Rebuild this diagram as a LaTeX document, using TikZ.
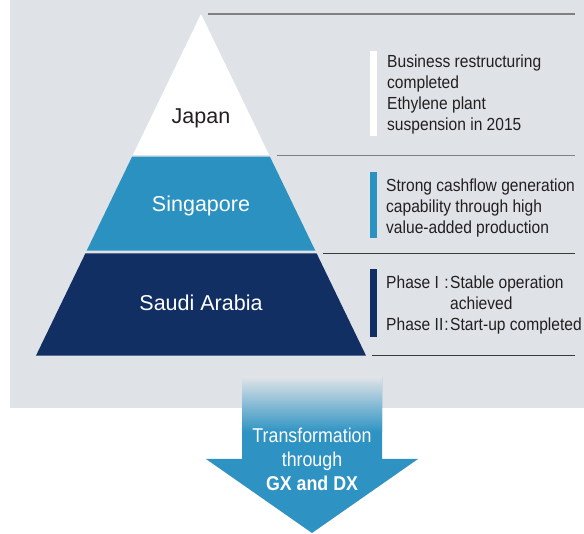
\documentclass[tikz,border=0pt]{standalone}
\usepackage{fontspec}
\setmainfont{Liberation Sans}
\newfontfamily\condensed{Liberation Sans}[FakeStretch=0.89]
\usepackage{tikz}
\definecolor{panelgray}{HTML}{DFE3E7}
\definecolor{midblue}{HTML}{2B91C0}
\definecolor{navy}{HTML}{112F63}
\definecolor{arrowblue}{HTML}{2E93C3}
\definecolor{rulegray}{HTML}{808080}
\definecolor{ruledark}{HTML}{3A3A3A}
\definecolor{ink}{HTML}{231F20}
\tikzstyle{tier label} = [font=\fontsize{21.5}{26}\selectfont, inner sep=0pt, anchor=base]
\tikzstyle{note} = [font=\condensed\fontsize{17.5}{21}\selectfont, inner sep=0pt, anchor=base west, text=ink]
\tikzstyle{rule} = [draw, line width=1.2pt]
\tikzstyle{arrow text} = [font=\condensed\fontsize{20}{24}\selectfont, inner sep=0pt, anchor=base, text=white]

\begin{document}
\begin{tikzpicture}[x=1pt, y=-1pt]
						\useasboundingbox (0,0) rectangle (584,534);
						\fill[panelgray] (10,0) rectangle (584,408);

						% First we draw the three tiers of the pyramid
						\foreach \ytop/\ybot/\col in {14/155/white, 156.7/250.7/midblue, 253.3/355.7/navy}
						\fill[\col] ({201-0.483*(\ytop-14)},\ytop) -- ({201+0.483*(\ytop-14)},\ytop)
							-- ({201+0.483*(\ybot-14)},\ybot) -- ({201-0.483*(\ybot-14)},\ybot) -- cycle;

						\node[tier label, text=ink] (japan) at (201,123.3) {Japan};
						\node[tier label, text=white] (singapore) at (201,212) {Singapore};
						\node[tier label, text=white] (saudi) at (201,310.7) {Saudi Arabia};

						% Rules between the rows on the right
						\foreach \x/\y/\col in {208/14/rulegray, 277/155.7/rulegray, 323/253.3/ruledark, 372/355.3/ruledark}
						\path[rule, \col] (\x,\y) -- (575,\y);

						% Colour bars beside the notes
						\foreach \ytop/\ybot/\col in {50.7/135.7/white, 171.7/238.3/midblue, 269.3/336.7/navy}
						\fill[\col] (370,\ytop) rectangle (376.5,\ybot);

						\node[note] (japan note) at (387,67.7) {\begin{tabular}[t]{@{}l@{}}
							Business restructuring\\ completed\\ Ethylene plant\\ suspension in 2015\end{tabular}};
						\node[note] (singapore note) at (386,191.7) {\begin{tabular}[t]{@{}l@{}}
							Strong cashflow generation\\ capability through high\\ value-added production\end{tabular}};
						\node[note] (saudi note) at (386,289) {\begin{tabular}[t]{@{}l@{\hspace{1pt}}l@{\hspace{1.5pt}}l@{}}
							Phase I & : & Stable operation\\ & & achieved\\ Phase II & : & Start-up completed\end{tabular}};

						% The arrow below the panel, fading in from the top
						\fill[arrowblue] (242,377) -- (382,377) -- (382,459) -- (418,459) -- (312,533)
							-- (206,459) -- (242,459) -- cycle;
						\shade[top color=panelgray, bottom color=arrowblue] (242,377) rectangle (382,432);
						\node[arrow text] (gxdx) at (312,442.7) {\begin{tabular}[t]{@{}c@{}}
							Transformation\\ through\\ \textbf{GX and DX}\end{tabular}};
					\end{tikzpicture}
\end{document}
